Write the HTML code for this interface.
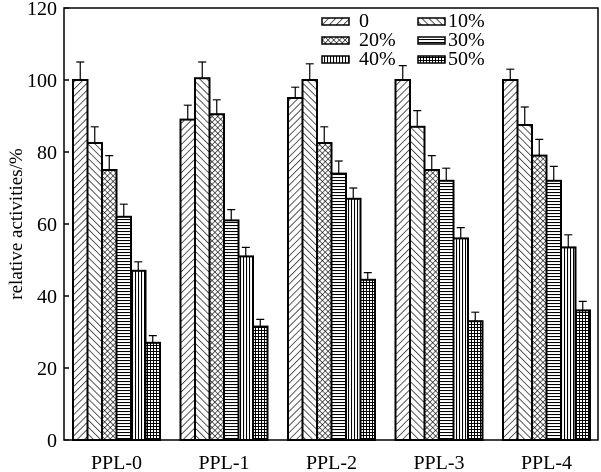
<!DOCTYPE html>
<html><head><meta charset="utf-8"><style>
html,body{margin:0;padding:0;background:#fff}
svg{display:block}
svg text{font-family:"Liberation Serif","DejaVu Serif","Times New Roman",serif}
</style></head><body>
<svg id="chart" width="601" height="472" viewBox="0 0 601 472" font-family="Liberation Serif, DejaVu Serif, serif">
<defs>
<pattern id="p0" width="5" height="5" patternUnits="userSpaceOnUse" patternTransform="rotate(45)"><rect width="5" height="5" fill="#fff"/><line x1="0" y1="0" x2="0" y2="5" stroke="#000" stroke-width="1.3"/></pattern>
<pattern id="p1" width="5" height="5" patternUnits="userSpaceOnUse" patternTransform="rotate(-45)"><rect width="5" height="5" fill="#fff"/><line x1="0" y1="0" x2="0" y2="5" stroke="#000" stroke-width="1.3"/></pattern>
<pattern id="p2" width="4" height="4" patternUnits="userSpaceOnUse" patternTransform="rotate(45)"><rect width="4" height="4" fill="#fff"/><path d="M0 0V4M0 0H4" stroke="#000" stroke-width="1.2"/></pattern>
<pattern id="p3" width="4" height="3" patternUnits="userSpaceOnUse"><rect width="4" height="3" fill="#fff"/><line x1="0" y1="0.5" x2="4" y2="0.5" stroke="#000" stroke-width="1.1"/></pattern>
<pattern id="p4" width="3" height="4" patternUnits="userSpaceOnUse"><rect width="3" height="4" fill="#fff"/><line x1="0.5" y1="0" x2="0.5" y2="4" stroke="#000" stroke-width="1.1"/></pattern>
<pattern id="p5" width="3" height="3" patternUnits="userSpaceOnUse"><rect width="3" height="3" fill="#fff"/><path d="M0.5 0V3M0 0.5H3" stroke="#000" stroke-width="1"/></pattern>
</defs>
<g id="plot"></g>
</svg>
<script>
const groups = ["PPL-0","PPL-1","PPL-2","PPL-3","PPL-4"];
const seriesNames = ["0","10%","20%","30%","40%","50%"];
const s0 = [100, 89, 95, 100, 100];
const s10 = [82.5, 100.5, 100, 87, 87.5];
const s20 = [75, 90.5, 82.5, 75, 79];
const s30 = [62, 61, 74, 72, 72];
const s40 = [47, 51, 67, 56, 53.5];
const s50 = [27, 31.5, 44.5, 33, 36];
const e0 = [5, 4, 3, 4, 3];
const e10 = [4.5, 4.5, 4.5, 4.5, 5];
const e20 = [4, 4, 4.5, 4, 4.5];
const e30 = [3.5, 3, 3.5, 3.5, 4];
const e40 = [2.5, 2.5, 3, 3, 3.5];
const e50 = [2, 2, 2, 2.5, 2.5];
const yTicks = [0,20,40,60,80,100,120];

const series=[s0,s10,s20,s30,s40,s50], errs=[e0,e10,e20,e30,e40,e50];
const L=64,R=598,T=8,B=440,ymax=120;
const y=v=>B-(v/ymax)*(B-T);
const bw=14.5, gStart=73, gStep=107.5;
const x=(g,s)=>gStart+g*gStep+s*bw;
const NS="http://www.w3.org/2000/svg";
const FF="Liberation Serif, DejaVu Serif, serif";
const plot=document.getElementById('plot');
function mk(tag,attrs,parent){const e=document.createElementNS(NS,tag);for(const k in attrs)e.setAttribute(k,attrs[k]);if(tag==='text')e.setAttribute('font-family',FF);(parent||plot).appendChild(e);return e;}

groups.forEach((gname,g)=>{
  series.forEach((arr,s)=>{
    const v=arr[g], er=errs[s][g], cx=x(g,s)+bw/2;
    const ln=mk('path',{d:`M${cx} ${y(v)}V${y(v+er)}M${cx-4} ${y(v+er)}H${cx+4}`,stroke:'#000','stroke-width':1.2,fill:'none'});
    
    
    const r=mk('rect',{x:x(g,s),y:y(v),width:bw,height:B-y(v),fill:`url(#p${s})`,stroke:'#000','stroke-width':2});
    
    
  });
  const t=mk('text',{x:gStart+g*gStep+3*bw,y:469,'text-anchor':'middle','font-size':20});
  t.textContent=gname;
  
  
});
yTicks.forEach(v=>{
  const tk=mk('line',{x1:L,x2:L+5,y1:y(v),y2:y(v),stroke:'#000','stroke-width':1.5});
  
  
  const t=mk('text',{x:L-7,y:y(v)+7,'text-anchor':'end','font-size':20});
  t.textContent=v;
  
  
});
const frame=mk('rect',{x:L,y:T,width:R-L,height:B-T,fill:'none',stroke:'#000','stroke-width':1.5});


const yl=mk('text',{x:0,y:0,transform:`translate(22,${(T+B)/2}) rotate(-90)`,'text-anchor':'middle','font-size':19});
yl.textContent='relative activities/%';


const lg=mk('g',{});


const lpos=[[322,18],[418,18],[322,37],[418,37],[322,56],[418,56]];
seriesNames.forEach((n,s)=>{
  const [lx,ly]=lpos[s];
  const b=mk('rect',{x:lx,y:ly,width:27,height:7,fill:`url(#p${s})`,stroke:'#000','stroke-width':1.5},lg);
  
  
  const t=mk('text',{x:lx+(s%2?30:37),y:ly+9,'font-size':20},lg);
  t.textContent=n;
  
  
});
</script>
</body></html>
